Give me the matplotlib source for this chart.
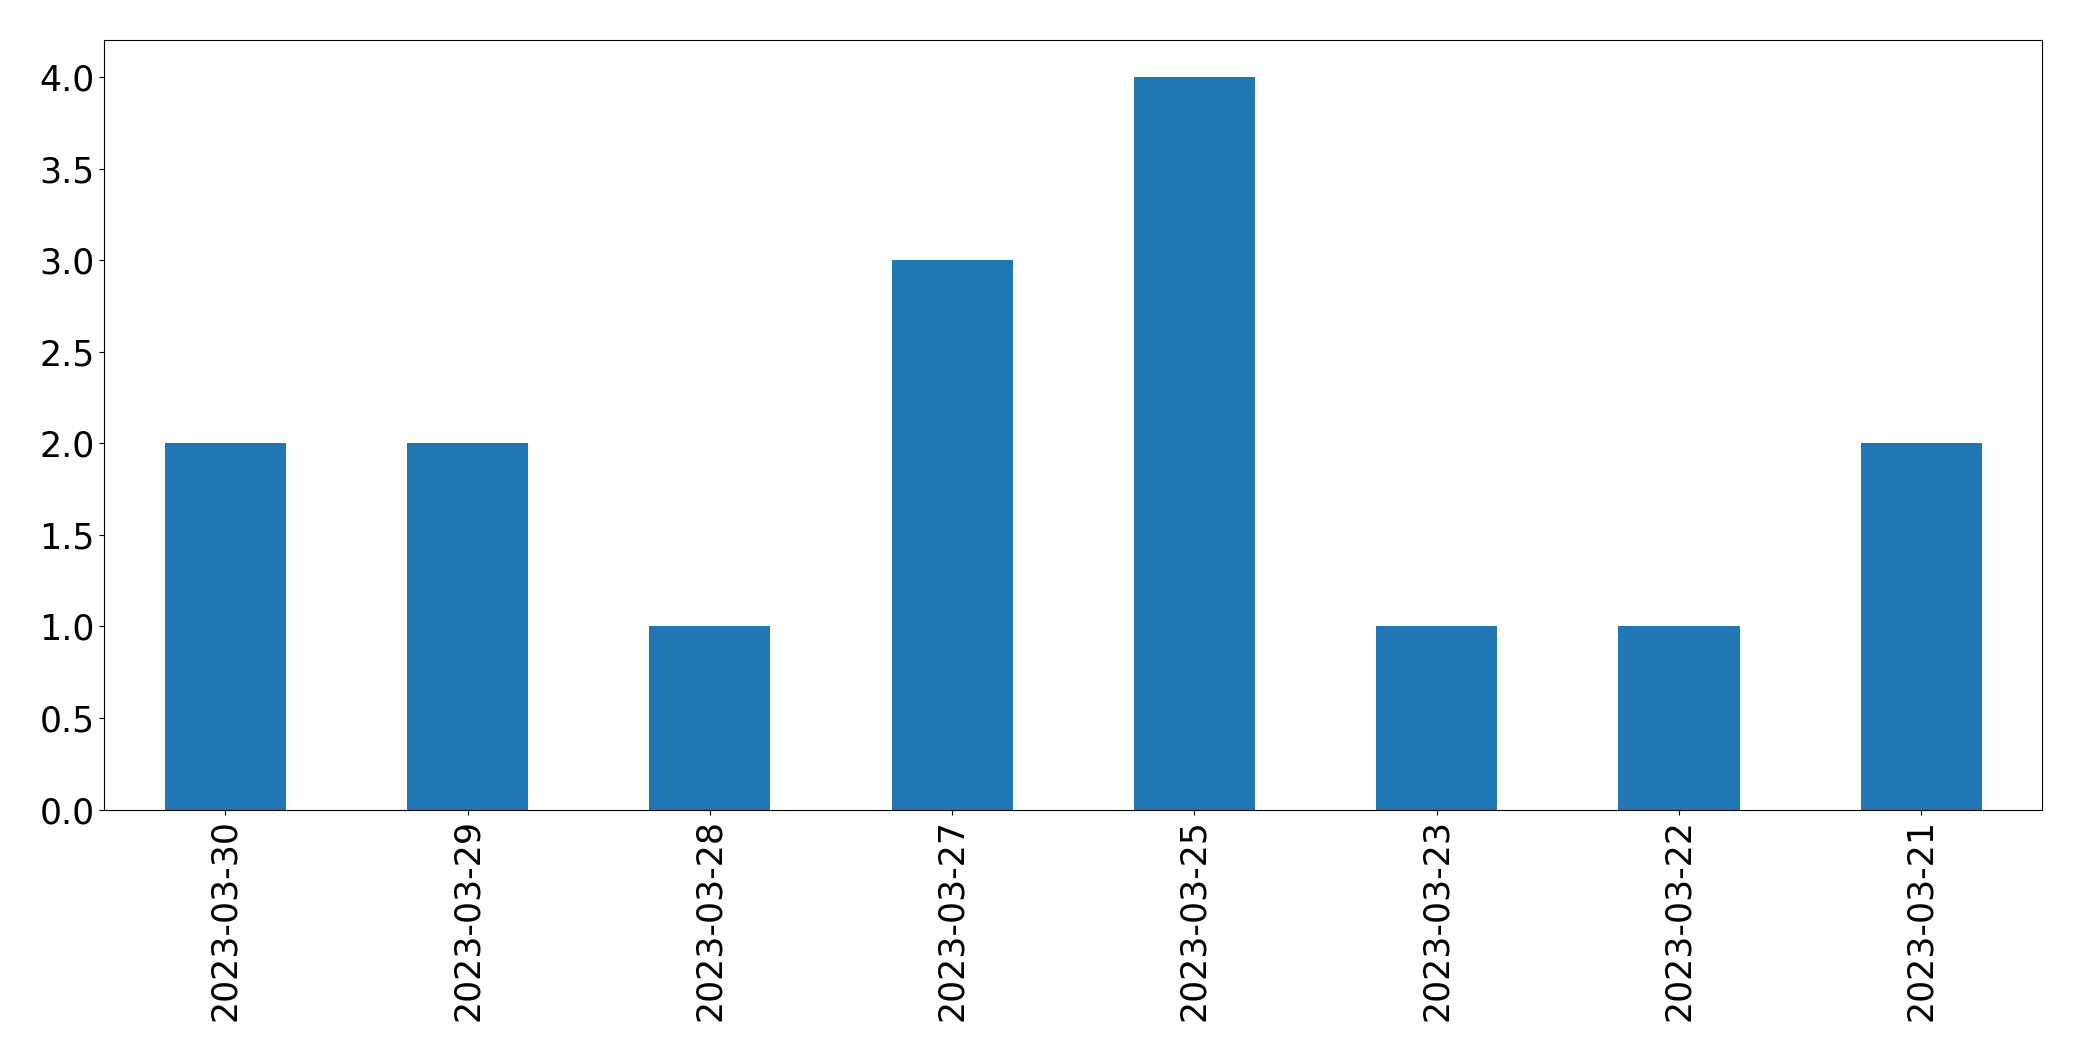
import matplotlib
matplotlib.use("Agg")
import matplotlib.pyplot as plt
import numpy as np

dates = ["2023-03-30", "2023-03-29", "2023-03-28", "2023-03-27",
         "2023-03-25", "2023-03-23", "2023-03-22", "2023-03-21"]
counts = [2, 2, 1, 3, 4, 1, 1, 2]

fig, ax = plt.subplots(figsize=(20.82, 10.61), dpi=100)
x = np.arange(len(dates))
ax.bar(x, counts, width=0.5, color="#1f77b4")
ax.set_xticks(x)
ax.set_xticklabels(dates, rotation=90)
ax.set_xlim(-0.5, len(dates) - 0.5)
ax.set_ylim(0, 4.2)
ax.set_yticks(np.arange(0, 4.01, 0.5))
ax.tick_params(labelsize=25)
fig.subplots_adjust(left=0.05, right=0.981, top=0.962, bottom=0.237)
fig.savefig("out.png")
